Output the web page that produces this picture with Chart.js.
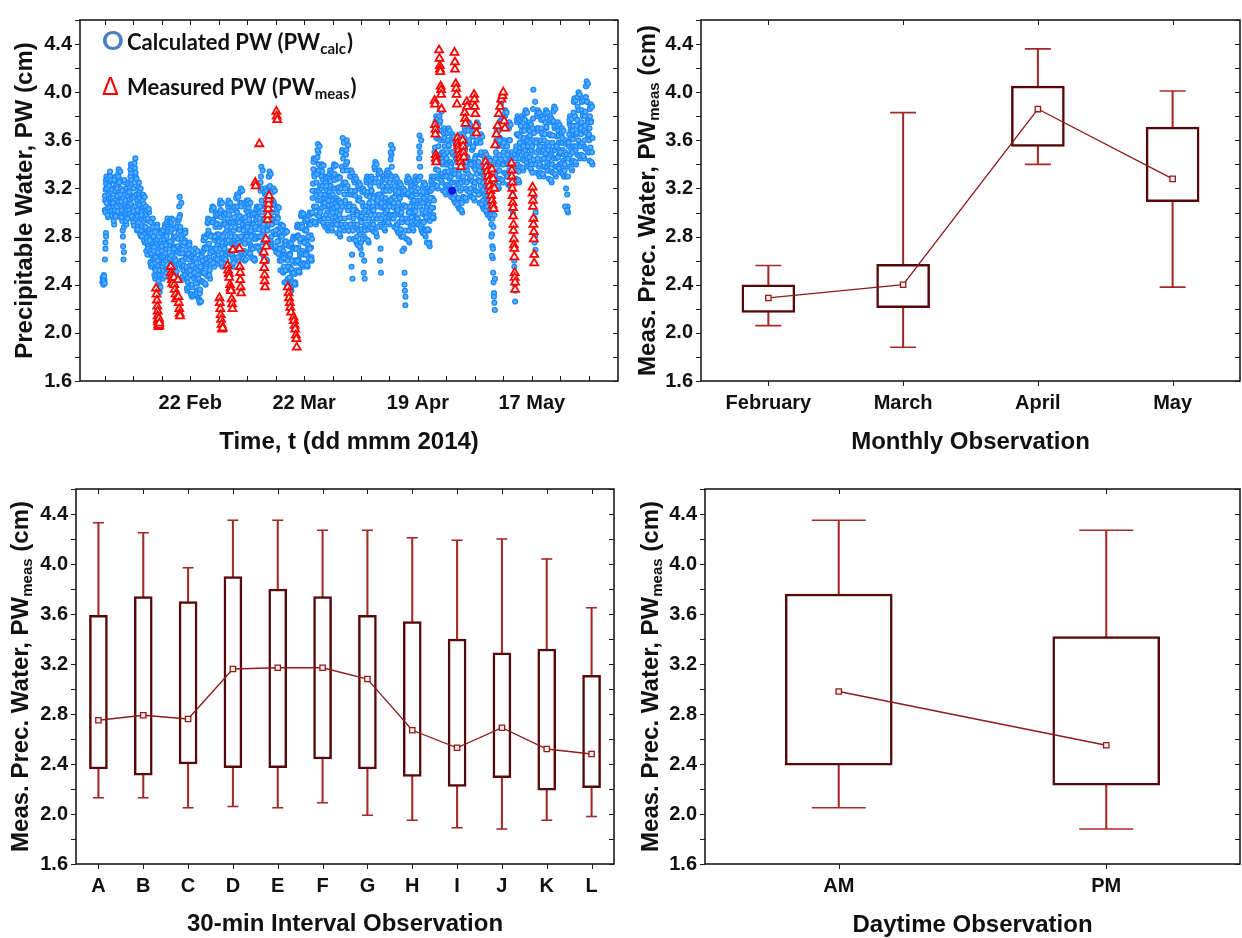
<!DOCTYPE html>
<html>
<head>
<meta charset="utf-8">
<script src="https://cdn.jsdelivr.net/npm/chart.js@4.4.1/dist/chart.umd.min.js"></script>
<style>
html, body { margin: 0; padding: 0; background: #fff; }
#wrap { position: relative; width: 1242px; height: 938px; overflow: hidden; }
canvas { position: absolute; }
</style>
</head>
<body>
<div id="wrap">
  <canvas id="pwTime" width="621" height="469" style="left:0;top:0"></canvas>
  <canvas id="pwMonth" width="621" height="469" style="left:621px;top:0"></canvas>
  <canvas id="pwInterval" width="621" height="469" style="left:0;top:469px"></canvas>
  <canvas id="pwDaytime" width="621" height="469" style="left:621px;top:469px"></canvas>
</div>
<script>
// ---- Panel 1: time series (x = day of year 2014) ----
const timeTicks = [32, 39, 46, 53, 60, 67, 74, 81, 88, 95, 102, 109, 116, 123, 130, 137, 144, 151];
const timeTickLabels = ['', '', '', '22 Feb', '', '', '', '22 Mar', '', '', '', '19 Apr', '', '', '', '17 May', '', ''];

// calculated PW, readings per day, two passes per day
const calcDays = [31.4, 32, 33, 34, 35, 36, 37, 38, 39, 40, 41, 42, 43, 44, 45, 46, 47, 48, 49, 50,
  51, 52, 53, 54, 55, 56, 57, 58, 59, 60, 61, 62, 63, 64, 65, 66, 67, 68, 69, 70,
  71, 72, 73, 74, 75, 76, 77, 78, 79, 80, 81, 82, 83, 84, 85, 86, 87, 88, 89, 90,
  91, 92, 93, 94, 95, 96, 97, 98, 99, 100, 101, 102, 103, 104, 105, 106, 107, 108, 109, 110,
  111, 112, 113, 114, 115, 116, 117, 118, 119, 120, 121, 122, 123, 124, 125, 126, 127, 128, 129, 130,
  131, 132, 133, 134, 135, 136, 137, 138, 139, 140, 141, 142, 143, 144, 145, 146, 147, 148, 149, 150, 151];
const calcPW = [
  [2.42, 2.45, 2.40, 2.48, 2.44, 2.61, 2.75, 2.83],
  [3.02, 3.10, 3.19, 3.27, 3.30, 3.22, 3.13, 3.04, 2.96, 3.08],
  [3.15, 3.24, 3.31, 3.34, 3.26, 3.17, 3.08, 3.00, 3.06, 3.20],
  [3.12, 3.04, 2.95, 2.90, 2.99, 3.10, 3.21, 3.30, 3.25, 3.16],
  [3.05, 3.14, 3.23, 3.32, 3.36, 3.28, 3.18, 3.07, 2.98, 3.11],
  [3.20, 3.11, 3.02, 2.93, 2.85, 2.72, 2.61, 2.88, 3.06, 3.25],
  [3.15, 3.07, 2.98, 2.90, 2.96, 3.05, 3.14, 3.22, 3.25, 3.18],
  [3.02, 3.11, 3.21, 3.30, 3.40, 3.33, 3.24, 3.12, 3.00, 2.95],
  [2.92, 3.01, 3.13, 3.25, 3.37, 3.45, 3.30, 3.15, 2.98, 2.85],
  [2.88, 2.97, 3.07, 3.16, 3.25, 3.18, 3.06, 2.95, 2.84, 2.80],
  [2.85, 2.94, 3.04, 3.12, 3.15, 3.05, 2.93, 2.82, 2.75, 2.86],
  [2.95, 3.05, 2.98, 2.86, 2.76, 2.65, 2.72, 2.83, 2.93, 3.00],
  [2.86, 2.78, 2.68, 2.59, 2.55, 2.64, 2.74, 2.85, 2.95, 2.90],
  [2.80, 2.71, 2.62, 2.53, 2.45, 2.52, 2.63, 2.75, 2.86, 2.90],
  [2.78, 2.67, 2.56, 2.46, 2.40, 2.34, 2.48, 2.62, 2.74, 2.85],
  [2.72, 2.63, 2.55, 2.45, 2.52, 2.64, 2.76, 2.87, 2.90, 2.81],
  [2.60, 2.70, 2.80, 2.90, 2.95, 2.86, 2.75, 2.64, 2.55, 2.50],
  [2.62, 2.73, 2.84, 2.93, 2.95, 2.88, 2.77, 2.66, 2.57, 2.70],
  [2.80, 2.71, 2.62, 2.54, 2.50, 2.58, 2.68, 2.79, 2.88, 2.90],
  [2.72, 2.83, 2.94, 3.05, 3.13, 2.98, 2.85, 2.70, 2.60, 2.55],
  [2.78, 2.69, 2.60, 2.52, 2.45, 2.55, 2.66, 2.77, 2.85, 2.74],
  [2.62, 2.53, 2.44, 2.35, 2.42, 2.51, 2.61, 2.70, 2.75, 2.66],
  [2.56, 2.48, 2.40, 2.32, 2.30, 2.38, 2.47, 2.56, 2.65, 2.60],
  [2.50, 2.60, 2.70, 2.62, 2.53, 2.44, 2.35, 2.30, 2.41, 2.52],
  [2.45, 2.36, 2.28, 2.25, 2.33, 2.43, 2.53, 2.62, 2.65, 2.55],
  [2.50, 2.59, 2.68, 2.77, 2.80, 2.71, 2.60, 2.49, 2.40, 2.55],
  [2.62, 2.72, 2.82, 2.91, 2.95, 2.85, 2.74, 2.63, 2.52, 2.45],
  [2.60, 2.70, 2.81, 2.92, 3.02, 3.05, 2.94, 2.80, 2.67, 2.55],
  [2.70, 2.79, 2.88, 2.97, 3.00, 2.91, 2.82, 2.73, 2.64, 2.60],
  [2.65, 2.76, 2.88, 3.00, 3.10, 3.02, 2.90, 2.78, 2.66, 2.55],
  [2.72, 2.81, 2.90, 2.98, 3.00, 2.92, 2.83, 2.74, 2.65, 2.60],
  [2.75, 2.85, 2.95, 3.05, 3.10, 3.01, 2.90, 2.79, 2.68, 2.65],
  [2.92, 2.83, 2.74, 2.65, 2.55, 2.62, 2.73, 2.85, 2.96, 3.05],
  [2.70, 2.80, 2.91, 3.02, 3.12, 3.15, 3.05, 2.92, 2.78, 2.60],
  [2.75, 2.86, 2.97, 3.08, 3.18, 3.20, 3.08, 2.94, 2.80, 2.65],
  [2.95, 2.86, 2.77, 2.68, 2.60, 2.66, 2.78, 2.90, 3.02, 3.10],
  [2.80, 2.90, 3.00, 3.10, 3.04, 2.94, 2.84, 2.74, 2.65, 2.70],
  [2.72, 2.81, 2.90, 2.98, 3.00, 2.91, 2.81, 2.71, 2.62, 2.60],
  [2.78, 2.86, 2.94, 3.02, 3.05, 2.97, 2.88, 2.79, 2.72, 2.70],
  [2.80, 2.92, 3.05, 3.18, 3.30, 3.38, 3.20, 3.00, 2.82, 2.65],
  [2.75, 2.85, 2.95, 3.05, 3.15, 3.20, 3.08, 2.92, 2.76, 2.60],
  [2.85, 2.97, 3.09, 3.21, 3.30, 3.34, 3.22, 3.06, 2.90, 2.75],
  [2.80, 2.90, 3.00, 3.10, 3.18, 3.20, 3.08, 2.94, 2.82, 2.70],
  [2.72, 2.82, 2.92, 3.00, 3.05, 2.96, 2.86, 2.76, 2.67, 2.65],
  [2.60, 2.70, 2.80, 2.88, 2.90, 2.81, 2.71, 2.61, 2.52, 2.50],
  [2.55, 2.65, 2.75, 2.83, 2.85, 2.76, 2.64, 2.52, 2.43, 2.40],
  [2.45, 2.55, 2.64, 2.72, 2.75, 2.66, 2.55, 2.45, 2.38, 2.35],
  [2.50, 2.60, 2.70, 2.78, 2.80, 2.71, 2.60, 2.49, 2.42, 2.40],
  [2.60, 2.70, 2.80, 2.88, 2.90, 2.81, 2.71, 2.61, 2.52, 2.50],
  [2.65, 2.76, 2.87, 2.97, 3.00, 2.90, 2.79, 2.68, 2.58, 2.55],
  [2.65, 2.75, 2.85, 2.93, 2.95, 2.86, 2.76, 2.66, 2.58, 2.55],
  [2.70, 2.80, 2.90, 2.98, 3.00, 2.91, 2.81, 2.71, 2.63, 2.60],
  [3.00, 3.12, 3.24, 3.36, 3.45, 3.32, 3.18, 3.04, 2.92, 2.90],
  [3.05, 3.18, 3.32, 3.46, 3.57, 3.50, 3.35, 3.18, 3.02, 2.95],
  [3.00, 3.10, 3.20, 3.30, 3.40, 3.34, 3.22, 3.08, 2.95, 2.90],
  [2.95, 3.05, 3.15, 3.25, 3.30, 3.22, 3.11, 3.00, 2.90, 2.85],
  [2.95, 3.06, 3.17, 3.28, 3.35, 3.26, 3.14, 3.02, 2.90, 2.85],
  [3.00, 3.10, 3.20, 3.30, 3.40, 3.32, 3.20, 3.08, 2.96, 2.90],
  [2.90, 3.00, 3.10, 3.20, 3.30, 3.21, 3.10, 2.98, 2.86, 2.80],
  [2.95, 3.08, 3.22, 3.38, 3.52, 3.62, 3.45, 3.25, 3.05, 2.85],
  [2.95, 3.10, 3.25, 3.40, 3.52, 3.60, 3.42, 3.22, 3.02, 2.85],
  [2.85, 2.96, 3.07, 3.18, 3.30, 3.35, 3.15, 2.90, 2.65, 2.45],
  [2.85, 2.95, 3.05, 3.15, 3.25, 3.30, 3.18, 3.02, 2.88, 2.75],
  [2.80, 2.90, 3.00, 3.10, 3.20, 3.25, 3.12, 2.96, 2.82, 2.70],
  [2.75, 2.86, 2.97, 3.08, 3.18, 3.20, 3.00, 2.80, 2.60, 2.45],
  [2.85, 2.95, 3.05, 3.15, 3.25, 3.30, 3.17, 3.00, 2.86, 2.75],
  [2.95, 3.04, 3.13, 3.22, 3.28, 3.30, 3.18, 3.04, 2.92, 2.85],
  [2.90, 3.02, 3.14, 3.26, 3.36, 3.42, 3.28, 3.10, 2.95, 2.80],
  [2.95, 3.05, 3.15, 3.25, 3.32, 3.35, 3.15, 2.90, 2.70, 2.50],
  [2.95, 3.04, 3.13, 3.22, 3.28, 3.30, 3.18, 3.04, 2.92, 2.85],
  [3.00, 3.09, 3.18, 3.27, 3.33, 3.35, 3.22, 3.08, 2.96, 2.90],
  [3.05, 3.18, 3.31, 3.44, 3.56, 3.48, 3.30, 3.12, 2.98, 2.95],
  [2.95, 3.04, 3.13, 3.22, 3.28, 3.30, 3.16, 3.02, 2.90, 2.85],
  [2.90, 2.99, 3.08, 3.17, 3.23, 3.25, 3.12, 2.98, 2.86, 2.80],
  [2.80, 2.92, 3.04, 3.15, 3.20, 2.95, 2.70, 2.50, 2.35, 2.23],
  [2.85, 2.95, 3.05, 3.15, 3.25, 3.30, 3.15, 3.00, 2.85, 2.75],
  [2.95, 3.04, 3.13, 3.20, 3.25, 3.18, 3.08, 2.98, 2.90, 2.85],
  [3.00, 3.08, 3.16, 3.24, 3.30, 3.25, 3.15, 3.05, 2.96, 2.90],
  [2.95, 3.10, 3.27, 3.45, 3.64, 3.50, 3.30, 3.10, 2.92, 2.85],
  [2.90, 2.99, 3.08, 3.17, 3.23, 3.25, 3.12, 2.98, 2.86, 2.80],
  [2.85, 2.95, 3.05, 3.14, 3.20, 3.10, 2.98, 2.85, 2.75, 2.72],
  [3.02, 3.10, 3.18, 3.25, 3.30, 3.22, 3.12, 3.04, 2.98, 2.95],
  [3.30, 3.42, 3.54, 3.66, 3.76, 3.80, 3.62, 3.45, 3.30, 3.20],
  [3.35, 3.48, 3.61, 3.74, 3.86, 3.76, 3.60, 3.45, 3.32, 3.25],
  [3.30, 3.40, 3.50, 3.60, 3.70, 3.62, 3.48, 3.34, 3.22, 3.15],
  [3.30, 3.40, 3.50, 3.60, 3.68, 3.70, 3.55, 3.40, 3.28, 3.20],
  [3.20, 3.30, 3.40, 3.50, 3.60, 3.65, 3.48, 3.32, 3.18, 3.10],
  [3.15, 3.25, 3.35, 3.45, 3.55, 3.60, 3.42, 3.25, 3.10, 3.05],
  [3.12, 3.24, 3.36, 3.48, 3.60, 3.65, 3.45, 3.25, 3.08, 3.00],
  [3.20, 3.30, 3.40, 3.50, 3.62, 3.70, 3.52, 3.35, 3.20, 3.10],
  [3.25, 3.35, 3.46, 3.57, 3.68, 3.75, 3.58, 3.42, 3.28, 3.15],
  [3.20, 3.30, 3.41, 3.52, 3.63, 3.70, 3.54, 3.38, 3.22, 3.10],
  [3.25, 3.36, 3.47, 3.58, 3.70, 3.75, 3.58, 3.42, 3.27, 3.15],
  [3.15, 3.26, 3.37, 3.48, 3.58, 3.65, 3.48, 3.32, 3.18, 3.05],
  [3.10, 3.19, 3.28, 3.37, 3.45, 3.50, 3.36, 3.22, 3.08, 3.00],
  [3.05, 3.14, 3.23, 3.32, 3.40, 3.45, 3.30, 3.15, 3.02, 2.95],
  [2.98, 2.90, 2.82, 2.72, 2.62, 2.50, 2.42, 2.33, 2.25, 2.19],
  [3.30, 3.40, 3.50, 3.60, 3.68, 3.70, 3.55, 3.40, 3.28, 3.20],
  [3.35, 3.48, 3.62, 3.76, 3.90, 3.97, 3.78, 3.58, 3.40, 3.25],
  [3.40, 3.50, 3.60, 3.70, 3.80, 3.85, 3.70, 3.55, 3.42, 3.30],
  [3.30, 3.40, 3.50, 3.60, 3.70, 3.75, 3.60, 3.45, 3.32, 3.20],
  [3.40, 3.50, 3.35, 3.15, 2.99, 2.85, 2.70, 2.55, 2.40, 2.26],
  [3.35, 3.45, 3.55, 3.65, 3.75, 3.80, 3.64, 3.48, 3.34, 3.25],
  [3.45, 3.54, 3.63, 3.72, 3.78, 3.80, 3.68, 3.56, 3.44, 3.35],
  [3.50, 3.59, 3.68, 3.77, 3.83, 3.85, 3.72, 3.60, 3.48, 3.40],
  [3.45, 3.54, 3.63, 3.70, 3.75, 3.68, 3.58, 3.48, 3.40, 3.35],
  [3.40, 3.55, 3.70, 3.86, 4.02, 3.60, 3.13, 2.95, 2.80, 2.69],
  [3.40, 3.50, 3.60, 3.70, 3.80, 3.85, 3.68, 3.52, 3.38, 3.30],
  [3.40, 3.50, 3.60, 3.70, 3.78, 3.80, 3.65, 3.50, 3.38, 3.30],
  [3.45, 3.55, 3.65, 3.75, 3.82, 3.85, 3.70, 3.56, 3.42, 3.35],
  [3.35, 3.45, 3.55, 3.65, 3.75, 3.80, 3.64, 3.48, 3.34, 3.25],
  [3.40, 3.52, 3.64, 3.76, 3.85, 3.88, 3.70, 3.52, 3.38, 3.30],
  [3.45, 3.54, 3.63, 3.70, 3.75, 3.68, 3.58, 3.48, 3.40, 3.35],
  [3.40, 3.49, 3.58, 3.65, 3.70, 3.62, 3.52, 3.43, 3.35, 3.30],
  [3.30, 3.40, 3.50, 3.58, 3.60, 3.45, 3.30, 3.15, 3.05, 3.00],
  [3.45, 3.55, 3.65, 3.74, 3.80, 3.72, 3.62, 3.52, 3.42, 3.35],
  [3.50, 3.61, 3.72, 3.83, 3.92, 3.95, 3.80, 3.65, 3.52, 3.40],
  [3.55, 3.66, 3.77, 3.88, 3.96, 4.00, 3.85, 3.70, 3.56, 3.45],
  [3.55, 3.65, 3.75, 3.85, 3.92, 3.95, 3.82, 3.68, 3.55, 3.45],
  [3.60, 3.72, 3.84, 3.96, 4.05, 4.09, 3.92, 3.76, 3.62, 3.50],
  [3.50, 3.60, 3.70, 3.80, 3.88, 3.90, 3.76, 3.62, 3.50, 3.40]
];
const calcPW2 = [
  [2.46, 2.43, 2.47, 2.41, 2.70, 2.80],
  [3.14, 3.00, 3.24, 3.08, 3.20, 2.98, 3.28, 3.12],
  [3.22, 3.04, 3.30, 3.12, 3.27, 3.02, 3.19, 3.10],
  [3.08, 2.93, 3.27, 3.02, 3.18, 2.97, 3.23, 3.06],
  [3.20, 3.01, 3.30, 3.09, 3.25, 2.96, 3.34, 3.15],
  [3.09, 2.96, 3.18, 2.80, 3.12, 2.67, 3.27, 3.00],
  [3.10, 2.93, 3.20, 3.02, 3.17, 2.95, 3.23, 3.05],
  [3.17, 2.99, 3.36, 3.07, 3.27, 2.97, 3.38, 3.14],
  [3.20, 2.89, 3.41, 3.05, 3.33, 2.95, 3.28, 3.10],
  [3.02, 2.86, 3.21, 2.92, 3.12, 2.82, 3.20, 3.00],
  [2.98, 2.80, 3.10, 2.88, 3.07, 2.77, 3.13, 2.96],
  [2.88, 2.68, 3.02, 2.79, 2.95, 2.70, 3.03, 2.84],
  [2.77, 2.58, 2.92, 2.66, 2.83, 2.57, 2.88, 2.72],
  [2.68, 2.48, 2.84, 2.58, 2.77, 2.47, 2.88, 2.66],
  [2.60, 2.43, 2.80, 2.52, 2.71, 2.38, 2.83, 2.57],
  [2.68, 2.48, 2.85, 2.58, 2.78, 2.47, 2.88, 2.66],
  [2.73, 2.53, 2.92, 2.62, 2.84, 2.52, 2.93, 2.70],
  [2.76, 2.58, 2.92, 2.64, 2.86, 2.56, 2.94, 2.72],
  [2.70, 2.52, 2.87, 2.60, 2.80, 2.51, 2.88, 2.67],
  [2.78, 2.57, 2.96, 2.66, 2.88, 2.58, 3.08, 2.75],
  [2.66, 2.47, 2.82, 2.56, 2.75, 2.48, 2.83, 2.62],
  [2.55, 2.37, 2.72, 2.46, 2.66, 2.38, 2.73, 2.52],
  [2.48, 2.32, 2.63, 2.40, 2.56, 2.31, 2.62, 2.45],
  [2.50, 2.32, 2.67, 2.41, 2.58, 2.33, 2.68, 2.48],
  [2.45, 2.27, 2.62, 2.36, 2.55, 2.26, 2.63, 2.43],
  [2.60, 2.42, 2.77, 2.50, 2.70, 2.41, 2.79, 2.57],
  [2.70, 2.47, 2.92, 2.58, 2.82, 2.48, 2.94, 2.66],
  [2.80, 2.57, 3.02, 2.68, 2.92, 2.58, 3.04, 2.77],
  [2.80, 2.62, 2.98, 2.70, 2.90, 2.61, 2.99, 2.78],
  [2.82, 2.57, 3.07, 2.70, 2.96, 2.58, 3.08, 2.80],
  [2.80, 2.62, 2.98, 2.70, 2.90, 2.61, 2.99, 2.77],
  [2.88, 2.67, 3.07, 2.77, 2.98, 2.66, 3.08, 2.85],
  [2.80, 2.57, 3.02, 2.68, 2.92, 2.58, 3.04, 2.78],
  [2.88, 2.62, 3.12, 2.74, 3.00, 2.63, 3.13, 2.86],
  [2.92, 2.68, 3.17, 2.80, 3.05, 2.67, 3.18, 2.90],
  [2.85, 2.62, 3.07, 2.74, 2.96, 2.61, 3.08, 2.82],
  [2.88, 2.67, 3.07, 2.77, 2.98, 2.66, 3.08, 2.85],
  [2.80, 2.62, 2.98, 2.70, 2.90, 2.61, 2.99, 2.78],
  [2.88, 2.72, 3.03, 2.80, 2.96, 2.71, 3.04, 2.86],
  [2.95, 2.68, 3.25, 2.80, 3.10, 2.66, 3.35, 2.90],
  [2.90, 2.62, 3.17, 2.75, 3.05, 2.61, 3.18, 2.86],
  [3.04, 2.78, 3.30, 2.90, 3.17, 2.77, 3.32, 3.00],
  [2.95, 2.72, 3.17, 2.84, 3.06, 2.71, 3.18, 2.92],
  [2.85, 2.67, 3.03, 2.76, 2.95, 2.66, 3.04, 2.83],
  [2.70, 2.52, 2.88, 2.60, 2.80, 2.51, 2.89, 2.68],
  [2.62, 2.42, 2.83, 2.52, 2.73, 2.41, 2.84, 2.60],
  [2.55, 2.37, 2.73, 2.46, 2.65, 2.36, 2.74, 2.53],
  [2.60, 2.42, 2.78, 2.50, 2.70, 2.41, 2.79, 2.58],
  [2.70, 2.52, 2.88, 2.60, 2.80, 2.51, 2.89, 2.68],
  [2.78, 2.57, 2.98, 2.66, 2.88, 2.56, 2.99, 2.75],
  [2.75, 2.57, 2.93, 2.65, 2.85, 2.56, 2.94, 2.73],
  [2.80, 2.62, 2.98, 2.70, 2.90, 2.61, 2.99, 2.78],
  [3.18, 2.93, 3.42, 3.05, 3.30, 2.92, 3.44, 3.14],
  [3.25, 2.98, 3.52, 3.10, 3.40, 2.97, 3.55, 3.22],
  [3.15, 2.93, 3.38, 3.04, 3.27, 2.92, 3.39, 3.12],
  [3.08, 2.88, 3.28, 2.98, 3.18, 2.87, 3.29, 3.05],
  [3.10, 2.88, 3.32, 2.98, 3.22, 2.87, 3.33, 3.07],
  [3.15, 2.93, 3.38, 3.04, 3.27, 2.92, 3.39, 3.12],
  [3.05, 2.83, 3.28, 2.94, 3.17, 2.82, 3.29, 3.02],
  [3.20, 2.90, 3.50, 3.05, 3.35, 2.88, 3.58, 3.15],
  [3.20, 2.90, 3.48, 3.05, 3.35, 2.88, 3.56, 3.15],
  [3.05, 2.78, 3.30, 2.90, 3.18, 2.55, 3.33, 3.00],
  [3.02, 2.78, 3.27, 2.90, 3.14, 2.77, 3.28, 3.00],
  [2.98, 2.73, 3.22, 2.85, 3.10, 2.72, 3.23, 2.95],
  [2.92, 2.65, 3.17, 2.78, 3.05, 2.50, 3.18, 2.88],
  [3.02, 2.78, 3.27, 2.90, 3.14, 2.77, 3.28, 3.00],
  [3.08, 2.88, 3.27, 2.98, 3.18, 2.87, 3.28, 3.05],
  [3.12, 2.84, 3.38, 2.98, 3.25, 2.83, 3.40, 3.08],
  [3.10, 2.88, 3.32, 2.98, 3.22, 2.60, 3.33, 3.06],
  [3.08, 2.88, 3.27, 2.98, 3.18, 2.87, 3.28, 3.05],
  [3.12, 2.93, 3.32, 3.02, 3.22, 2.92, 3.33, 3.10],
  [3.25, 2.98, 3.50, 3.10, 3.38, 2.97, 3.53, 3.20],
  [3.08, 2.88, 3.27, 2.98, 3.18, 2.87, 3.28, 3.05],
  [3.02, 2.83, 3.22, 2.92, 3.12, 2.82, 3.23, 3.00],
  [2.95, 2.68, 3.17, 2.80, 3.06, 2.40, 3.18, 2.30],
  [3.05, 2.78, 3.27, 2.92, 3.16, 2.77, 3.28, 3.00],
  [3.05, 2.88, 3.22, 2.96, 3.14, 2.87, 3.23, 3.02],
  [3.10, 2.93, 3.27, 3.01, 3.18, 2.92, 3.28, 3.08],
  [3.20, 2.90, 3.55, 3.05, 3.38, 2.88, 3.60, 3.15],
  [3.02, 2.83, 3.22, 2.92, 3.12, 2.82, 3.23, 3.00],
  [2.96, 2.75, 3.17, 2.86, 3.07, 2.74, 3.18, 2.93],
  [3.12, 2.97, 3.27, 3.04, 3.20, 2.96, 3.28, 3.10],
  [3.50, 3.23, 3.75, 3.36, 3.62, 3.22, 3.78, 3.45],
  [3.55, 3.28, 3.80, 3.42, 3.68, 3.27, 3.84, 3.50],
  [3.42, 3.18, 3.66, 3.30, 3.55, 3.17, 3.68, 3.40],
  [3.45, 3.23, 3.66, 3.34, 3.56, 3.22, 3.68, 3.42],
  [3.38, 3.13, 3.62, 3.25, 3.50, 3.12, 3.63, 3.35],
  [3.32, 3.08, 3.57, 3.20, 3.45, 3.07, 3.58, 3.30],
  [3.32, 3.03, 3.62, 3.18, 3.47, 3.02, 3.63, 3.28],
  [3.40, 3.13, 3.66, 3.26, 3.55, 3.12, 3.68, 3.38],
  [3.45, 3.18, 3.72, 3.32, 3.60, 3.17, 3.73, 3.42],
  [3.40, 3.13, 3.67, 3.26, 3.55, 3.12, 3.68, 3.38],
  [3.45, 3.18, 3.72, 3.32, 3.60, 3.17, 3.73, 3.42],
  [3.35, 3.08, 3.62, 3.22, 3.50, 3.07, 3.63, 3.32],
  [3.25, 3.03, 3.47, 3.14, 3.36, 3.02, 3.48, 3.22],
  [3.20, 2.98, 3.42, 3.10, 3.32, 2.97, 3.43, 3.18],
  [2.80, 2.64, 2.95, 2.70, 2.88, 2.30, 2.98, 2.45],
  [3.45, 3.23, 3.66, 3.34, 3.56, 3.22, 3.68, 3.42],
  [3.60, 3.28, 3.92, 3.44, 3.76, 3.27, 3.94, 3.55],
  [3.58, 3.33, 3.82, 3.45, 3.70, 3.32, 3.83, 3.55],
  [3.48, 3.23, 3.72, 3.35, 3.60, 3.22, 3.73, 3.45],
  [3.25, 3.02, 3.47, 3.14, 3.36, 2.60, 3.48, 2.35],
  [3.52, 3.28, 3.77, 3.40, 3.65, 3.27, 3.78, 3.50],
  [3.58, 3.38, 3.77, 3.48, 3.68, 3.37, 3.78, 3.55],
  [3.62, 3.43, 3.82, 3.52, 3.72, 3.42, 3.83, 3.60],
  [3.55, 3.38, 3.72, 3.46, 3.64, 3.37, 3.73, 3.52],
  [3.55, 3.33, 3.78, 3.44, 3.66, 2.75, 3.92, 3.00],
  [3.58, 3.33, 3.82, 3.45, 3.70, 3.32, 3.83, 3.55],
  [3.55, 3.33, 3.77, 3.44, 3.66, 3.32, 3.78, 3.52],
  [3.60, 3.38, 3.82, 3.49, 3.71, 3.37, 3.83, 3.58],
  [3.52, 3.28, 3.77, 3.40, 3.65, 3.27, 3.78, 3.50],
  [3.58, 3.33, 3.84, 3.45, 3.72, 3.32, 3.86, 3.55],
  [3.55, 3.38, 3.72, 3.46, 3.64, 3.37, 3.73, 3.52],
  [3.50, 3.33, 3.67, 3.41, 3.58, 3.32, 3.68, 3.48],
  [3.35, 3.05, 3.57, 3.20, 3.48, 3.02, 3.58, 3.30],
  [3.58, 3.38, 3.77, 3.48, 3.68, 3.37, 3.78, 3.55],
  [3.68, 3.43, 3.92, 3.55, 3.80, 3.42, 3.93, 3.65],
  [3.72, 3.48, 3.96, 3.60, 3.85, 3.47, 3.98, 3.70],
  [3.70, 3.48, 3.92, 3.58, 3.80, 3.47, 3.93, 3.68],
  [3.80, 3.53, 4.05, 3.66, 3.92, 3.52, 4.07, 3.75],
  [3.65, 3.43, 3.86, 3.54, 3.75, 3.42, 3.88, 3.62]
];

// one highlighted calculated point
const markDay = [117.4];
const markPW = [3.18];

// measured PW (day, value)
const measDay = [
  44.6, 44.7, 44.8, 44.9, 45.0, 45.0, 45.1, 45.1, 45.2, 45.2, 45.3, 45.3, 45.4, 45.4,
  48.2, 48.3, 48.4, 48.5, 48.6, 49.0, 49.1, 49.2, 49.4, 49.5, 50.0, 50.1, 50.2, 50.3, 50.4, 50.5,
  60.2, 60.3, 60.4, 60.5, 60.6, 60.7, 60.8, 61.0,
  62.2, 62.3, 62.5, 62.6, 62.8, 62.9, 63.0, 63.2, 63.3, 63.4, 63.5,
  65.1, 65.2, 65.3, 65.3, 65.4, 65.5,
  69.0, 69.1, 70.0,
  71.1, 71.2, 71.2, 71.3, 71.3, 71.4, 71.6, 71.7, 72.0, 72.1, 72.2, 72.3, 72.3, 72.4,
  74.2, 74.3, 74.4,
  77.0, 77.2, 77.3, 77.5, 77.6, 77.8,
  78.4, 78.5, 78.7, 78.8, 79.0, 79.1, 79.2,
  113.1, 113.2, 113.2, 113.3, 113.3, 113.4, 113.4, 113.5,
  114.2, 114.3, 114.4, 114.4, 114.5, 114.6, 114.7, 114.7, 114.8,
  118.0, 118.1, 118.1, 118.3, 118.4, 118.5, 118.6,
  118.7, 118.8, 118.9, 119.0, 119.2, 119.3, 119.5, 119.6, 120.0, 120.1, 120.2, 120.3, 120.5, 120.6, 120.7, 121.0, 121.1,
  122.8, 122.9, 123.0, 123.1, 123.3, 123.4,
  125.6, 125.8, 126.0, 126.2, 126.4, 126.6, 126.8, 127.0, 127.2, 127.4, 127.6, 127.2, 127.5, 127.8,
  128.0, 128.3, 128.6, 128.9, 129.2, 129.5, 129.8, 130.0, 130.2, 130.4,
  132.0, 132.1, 132.1, 132.2, 132.2, 132.3, 132.3, 132.4, 132.4, 132.5, 132.5, 132.6, 132.6, 132.7, 132.7, 132.8, 132.8, 132.9, 132.9,
  137.2, 137.2, 137.3, 137.3, 137.4, 137.4, 137.5, 137.5, 137.6, 137.6
];
const measPW = [
  2.37, 2.32, 2.27, 2.22, 2.18, 2.14, 2.11, 2.09, 2.07, 2.05, 2.10, 2.12, 2.06, 2.08,
  2.55, 2.50, 2.47, 2.44, 2.41, 2.46, 2.40, 2.36, 2.32, 2.28, 2.44, 2.30, 2.25, 2.20, 2.16, 2.14,
  2.29, 2.25, 2.20, 2.15, 2.11, 2.07, 2.03, 2.04,
  2.56, 2.52, 2.49, 2.46, 2.40, 2.37, 2.35, 2.28, 2.24, 2.20, 2.69,
  2.70, 2.55, 2.50, 2.44, 2.38, 2.33,
  3.25, 3.22, 3.57,
  2.67, 2.60, 2.54, 2.48, 2.43, 2.38, 2.78, 2.72, 2.94, 2.98, 3.03, 3.07, 3.11, 3.14,
  3.84, 3.80, 3.77,
  2.38, 2.33, 2.29, 2.25, 2.21, 2.17,
  2.13, 2.10, 2.06, 2.03, 1.98, 1.95, 1.88,
  3.93, 3.90, 3.73, 3.69, 3.65, 3.48, 3.45, 3.42,
  4.35, 4.28, 4.22, 4.19, 4.17, 4.05, 4.02, 3.98, 3.86,
  4.33, 4.25, 4.19, 4.07, 4.03, 3.98, 3.90,
  3.62, 3.58, 3.55, 3.52, 3.48, 3.45, 3.42, 3.38, 3.60, 3.55, 3.50, 3.46, 3.83, 3.78, 3.74, 3.92, 3.88,
  3.98, 3.94, 3.88, 3.82, 3.72, 3.66,
  3.42, 3.38, 3.34, 3.30, 3.26, 3.22, 3.18, 3.14, 3.10, 3.06, 3.03, 3.36, 3.28, 3.20,
  3.56, 3.65, 3.72, 3.82, 3.88, 3.94, 3.97, 4.00, 3.76, 3.70,
  3.41, 3.35, 3.30, 3.25, 3.20, 3.14, 3.08, 3.04, 2.97, 2.90, 2.85, 2.78, 2.73, 2.70, 2.63, 2.50, 2.46, 2.42, 2.36,
  3.21, 3.16, 3.10, 3.05, 2.95, 2.90, 2.84, 2.78, 2.65, 2.58
];

// ---- Panel 2: monthly ----
const months = ['February', 'March', 'April', 'May'];
const monthMin = [2.06, 1.88, 3.40, 2.38];
const monthQ1 = [2.17, 2.21, 3.55, 3.09];
const monthMean = [2.29, 2.40, 3.86, 3.28];
const monthQ3 = [2.40, 2.57, 4.05, 3.71];
const monthMax = [2.56, 3.83, 4.36, 4.01];

// ---- Panel 3: 30-min intervals ----
const intervals = ['A', 'B', 'C', 'D', 'E', 'F', 'G', 'H', 'I', 'J', 'K', 'L'];
const intMin = [2.13, 2.13, 2.05, 2.06, 2.05, 2.09, 1.99, 1.95, 1.89, 1.88, 1.95, 1.98];
const intQ1 = [2.36, 2.31, 2.40, 2.37, 2.37, 2.44, 2.36, 2.30, 2.22, 2.29, 2.19, 2.21];
const intMean = [2.75, 2.79, 2.76, 3.16, 3.17, 3.17, 3.08, 2.67, 2.53, 2.69, 2.52, 2.48];
const intQ3 = [3.59, 3.74, 3.70, 3.90, 3.80, 3.74, 3.59, 3.54, 3.40, 3.29, 3.32, 3.11];
const intMax = [4.33, 4.25, 3.97, 4.35, 4.35, 4.27, 4.27, 4.21, 4.19, 4.20, 4.04, 3.65];

// ---- Panel 4: AM / PM ----
const daytime = ['AM', 'PM'];
const dayMin = [2.05, 1.88];
const dayQ1 = [2.39, 2.23];
const dayMean = [2.98, 2.55];
const dayQ3 = [3.76, 3.42];
const dayMax = [4.35, 4.27];

const yTicksMin = 1.6, yTicksMax = 4.6;

// ---------------------------------------------------------------
const TICK_FONT = { family: '"Liberation Sans", Arial, sans-serif', size: 20, weight: 'bold' };
const TITLE_FONT = 'bold 24px "Liberation Sans", Arial, sans-serif';
const SUB_FONT = 'bold 15px "Liberation Sans", Arial, sans-serif';
const LEG_FONT = 'bold 22px Lato, "Liberation Sans", sans-serif';
const LEG_SUB = 'bold 15px Lato, "Liberation Sans", sans-serif';
const BOX_COL = '#560808';
const WHISK_COL = '#a42a2a';
const MEAN_COL = '#8e1b1b';

Chart.defaults.color = '#111';
Chart.defaults.animation = false;

// frame, short tick marks and axis titles
const panelDecor = {
  id: 'panelDecor',
  afterDraw(chart, args, o) {
    const { ctx, chartArea: a } = chart;
    const ys = chart.scales.y, xs = chart.scales.x;
    const bx = o.bottomOut ? 5 : -5;
    ctx.save();
    ctx.strokeStyle = '#1c1c1c';
    ctx.lineWidth = 1;
    ctx.beginPath();
    ys.ticks.forEach(t => {
      const p = Math.round(ys.getPixelForValue(t.value)) + 0.5;
      ctx.moveTo(a.left - 5, p); ctx.lineTo(a.left, p);
      ctx.moveTo(a.right - 5, p); ctx.lineTo(a.right, p);
    });
    xs.ticks.forEach((t, i) => {
      const p = Math.round(xs.getPixelForTick(i)) + 0.5;
      ctx.moveTo(p, a.bottom); ctx.lineTo(p, a.bottom + bx);
      ctx.moveTo(p, a.top); ctx.lineTo(p, a.top + 5);
    });
    ctx.stroke();
    ctx.lineWidth = 1.6;
    ctx.strokeRect(a.left, a.top, a.right - a.left, a.bottom - a.top);

    ctx.fillStyle = '#111';
    ctx.font = TITLE_FONT;
    ctx.textAlign = 'center';
    ctx.textBaseline = 'middle';
    ctx.fillText(o.xTitle, (a.left + a.right) / 2, o.xTitleY);

    ctx.translate(o.yTitleX, (a.top + a.bottom) / 2);
    ctx.rotate(-Math.PI / 2);
    ctx.textAlign = 'left';
    ctx.textBaseline = 'alphabetic';
    let total = 0;
    o.yTitle.forEach(p => { ctx.font = p[1] ? SUB_FONT : TITLE_FONT; total += ctx.measureText(p[0]).width; });
    let x = -total / 2;
    o.yTitle.forEach(p => {
      ctx.font = p[1] ? SUB_FONT : TITLE_FONT;
      ctx.fillText(p[0], x, p[1] ? 12 : 8);
      x += ctx.measureText(p[0]).width;
    });
    ctx.restore();
  }
};

// legend of the time-series panel (text with subscripts)
const seriesLegend = {
  id: 'seriesLegend',
  afterDraw(chart) {
    const ctx = chart.ctx;
    const rows = [
      { sym: 'O', symFont: 'bold 27px Lato, "Liberation Sans", sans-serif', symCol: '#4d7fbf', main: 'Calculated PW (PW', sub: 'calc', y: 50 },
      { sym: '\u0394', symFont: '25px "Liberation Sans", sans-serif', symCol: '#ff0000', main: 'Measured PW (PW', sub: 'meas', y: 95 }
    ];
    ctx.save();
    ctx.textBaseline = 'alphabetic';
    ctx.textAlign = 'left';
    rows.forEach(r => {
      ctx.font = r.symFont; ctx.fillStyle = r.symCol;
      ctx.fillText(r.sym, 102, r.y);
      ctx.fillStyle = '#111';
      let x = 127;
      ctx.font = LEG_FONT;
      ctx.fillText(r.main, x, r.y); x += ctx.measureText(r.main).width;
      ctx.font = LEG_SUB;
      ctx.fillText(r.sub, x, r.y + 4); x += ctx.measureText(r.sub).width;
      ctx.font = LEG_FONT;
      ctx.fillText(')', x + 1, r.y);
    });
    ctx.restore();
  }
};

function yScale(width) {
  return {
    min: yTicksMin, max: yTicksMax,
    grid: { display: false, drawTicks: false }, border: { display: false },
    ticks: {
      stepSize: 0.2, padding: 8, autoSkip: false, font: TICK_FONT, color: '#111',
      callback: v => (Math.round(v * 10) % 4 === 0 ? v.toFixed(1) : '')
    },
    afterFit: s => { s.width = width; }
  };
}

// time-series scatter points
const calcPoints = [];
calcDays.forEach((d, i) => {
  const a = calcPW[i], b = calcPW2[i];
  a.forEach((v, j) => calcPoints.push({ x: d + j / a.length, y: v }));
  b.forEach((v, j) => calcPoints.push({ x: d + (j + 0.5) / b.length, y: v }));
});

new Chart(document.getElementById('pwTime'), {
  type: 'scatter',
  data: {
    datasets: [
      {
        data: calcPoints, order: 3,
        pointRadius: 2.4, borderWidth: 1.3,
        borderColor: '#1889ff', backgroundColor: '#5eaeff'
      },
      {
        data: markDay.map((d, i) => ({ x: d, y: markPW[i] })), order: 2,
        pointRadius: 4, borderWidth: 0, backgroundColor: '#1418e0'
      },
      {
        data: measDay.map((d, i) => ({ x: d, y: measPW[i] })), order: 1,
        pointStyle: 'triangle', pointRadius: 4.6, borderWidth: 1.8,
        borderColor: '#ff0000', backgroundColor: '#ffffff'
      }
    ]
  },
  options: {
    responsive: false, events: [],
    layout: { autoPadding: false, padding: { top: 12, right: 3, left: 0, bottom: 0 } },
    plugins: {
      legend: { display: false }, tooltip: { enabled: false },
      panelDecor: { xTitle: 'Time, t (dd mmm 2014)', xTitleY: 442, yTitleX: 24, bottomOut: false,
        yTitle: [['Precipitable Water, PW (cm)', false]] }
    },
    scales: {
      x: {
        type: 'linear', min: 25.9, max: 158.2,
        grid: { display: false, drawTicks: false }, border: { display: false },
        afterBuildTicks: s => { s.ticks = timeTicks.map(v => ({ value: v })); },
        ticks: { autoSkip: false, maxRotation: 0, padding: 10, font: TICK_FONT, color: '#111',
          callback: (v, i) => timeTickLabels[i] },
        afterFit: s => { s.height = 88; }
      },
      y: yScale(80)
    }
  },
  plugins: [panelDecor, seriesLegend]
});

// box-plot style panels
function boxPanel(id, labels, mins, q1, mean, q3, maxs, size, decor) {
  return new Chart(document.getElementById(id), {
    type: 'bar',
    data: {
      labels,
      datasets: [
        {
          type: 'line', data: mean, order: 1,
          borderColor: MEAN_COL, borderWidth: 1.3, tension: 0,
          pointStyle: 'rect', pointRadius: 3.8, pointBorderWidth: 1.3,
          pointBorderColor: MEAN_COL, pointBackgroundColor: '#f6ecec'
        },
        {
          type: 'bar', data: q1.map((v, i) => [v, q3[i]]), order: 2, grouped: false,
          barThickness: size.box, backgroundColor: '#ffffff',
          borderColor: BOX_COL, borderWidth: 2.5, borderSkipped: false
        },
        {
          type: 'line', data: maxs, order: 3, showLine: false,
          pointStyle: 'line', pointRadius: size.cap, pointBorderWidth: 1.6, pointBorderColor: WHISK_COL
        },
        {
          type: 'line', data: mins, order: 3, showLine: false,
          pointStyle: 'line', pointRadius: size.cap, pointBorderWidth: 1.6, pointBorderColor: WHISK_COL
        },
        {
          type: 'bar', data: mins.map((v, i) => [v, maxs[i]]), order: 4, grouped: false,
          barThickness: 1.4, backgroundColor: WHISK_COL
        }
      ]
    },
    options: {
      responsive: false, events: [],
      layout: { autoPadding: false, padding: { top: size.top, right: size.right, left: 0, bottom: 0 } },
      plugins: { legend: { display: false }, tooltip: { enabled: false }, panelDecor: decor },
      scales: {
        x: {
          grid: { display: false, drawTicks: false }, border: { display: false },
          ticks: { autoSkip: false, maxRotation: 0, padding: 10, font: TICK_FONT, color: '#111' },
          afterFit: s => { s.height = size.xh; }
        },
        y: yScale(size.yw)
      }
    },
    plugins: [panelDecor]
  });
}

const measTitle = [['Meas. Prec. Water, PW', false], ['meas', true], [' (cm)', false]];

boxPanel('pwMonth', months, monthMin, monthQ1, monthMean, monthQ3, monthMax,
  { box: 53, cap: 13, top: 7, right: 2, xh: 88, yw: 80 },
  { xTitle: 'Monthly Observation', xTitleY: 442, yTitleX: 26, bottomOut: true, yTitle: measTitle });

boxPanel('pwInterval', intervals, intMin, intQ1, intMean, intQ3, intMax,
  { box: 18, cap: 5.5, top: 11, right: 7, xh: 74, yw: 76 },
  { xTitle: '30-min Interval Observation', xTitleY: 455, yTitleX: 20, bottomOut: true, yTitle: measTitle });

boxPanel('pwDaytime', daytime, dayMin, dayQ1, dayMean, dayQ3, dayMax,
  { box: 107, cap: 27, top: 11, right: 2, xh: 74, yw: 84 },
  { xTitle: 'Daytime Observation', xTitleY: 456, yTitleX: 29, bottomOut: true, yTitle: measTitle });
</script>
</body>
</html>
